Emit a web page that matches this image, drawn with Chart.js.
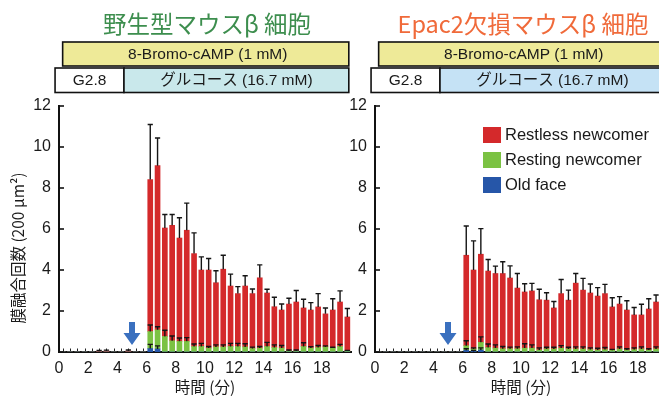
<!DOCTYPE html>
<html>
<head>
<meta charset="utf-8">
<script src="https://cdn.jsdelivr.net/npm/chart.js@4/dist/chart.umd.min.js"></script>
<style>
  html, body { margin: 0; padding: 0; background: #fff; }
  #wrap { position: relative; width: 659px; height: 399px; overflow: hidden; }
  .panel { position: absolute; top: 0; width: 360px; height: 399px; }
</style>
</head>
<body>
<div id="wrap">
  <div class="panel" style="left:0"><canvas id="wt" width="360" height="399"></canvas></div>
  <div class="panel" style="left:316px"><canvas id="ko" width="360" height="399"></canvas></div>
</div>
<script>
// Time bins (min), one bar every 30 s
const times = [0.25, 0.75, 1.25, 1.75, 2.25, 2.75, 3.25, 3.75, 4.25, 4.75, 5.25, 5.75,
  6.25, 6.75, 7.25, 7.75, 8.25, 8.75, 9.25, 9.75, 10.25, 10.75, 11.25, 11.75, 12.25, 12.75,
  13.25, 13.75, 14.25, 14.75, 15.25, 15.75, 16.25, 16.75, 17.25, 17.75, 18.25, 18.75, 19.25, 19.75];
const xTicks = [0, 2, 4, 6, 8, 10, 12, 14, 16, 18];
const yTicks = [0, 2, 4, 6, 8, 10, 12];
const seriesNames = ['Old face', 'Resting newcomer', 'Restless newcomer'];

// Wild-type beta cells: fusion events per 200 um^2 (segment heights) and SEM
const wtOld = [0, 0, 0, 0, 0, 0, 0, 0, 0, 0, 0, 0,
  0.17, 0.15, 0, 0, 0, 0, 0, 0, 0, 0, 0, 0, 0, 0, 0, 0, 0, 0, 0, 0, 0, 0, 0, 0, 0, 0, 0, 0];
const wtResting = [0, 0, 0, 0, 0, 0, 0, 0, 0, 0, 0, 0,
  0.83, 0.93, 0.76, 0.55, 0.52, 0.52, 0.27, 0.27, 0.19, 0.25, 0.25, 0.27, 0.27, 0.25,
  0.17, 0.19, 0.27, 0.22, 0.19, 0.05, 0.05, 0.27, 0.19, 0.22, 0.25, 0.19, 0.27, 0.05];
const wtRestless = [0, 0, 0, 0, 0, 0.04, 0.05, 0, 0, 0.05, 0, 0,
  7.41, 8.01, 5.29, 5.63, 5.04, 5.42, 4.53, 3.73, 3.81, 3.13, 3.79, 2.95, 2.58, 2.97,
  2.68, 3.43, 2.61, 1.99, 1.86, 2.29, 2.39, 1.88, 1.86, 1.98, 1.61, 1.86, 2.17, 1.66];
const wtOldErr = [0, 0, 0, 0, 0, 0, 0, 0, 0, 0, 0, 0,
  0.2, 0.15, 0, 0, 0, 0, 0, 0, 0, 0, 0, 0, 0, 0, 0, 0, 0, 0, 0, 0, 0, 0, 0, 0, 0, 0, 0, 0];
const wtRestingErr = [0, 0, 0, 0, 0, 0, 0, 0, 0, 0, 0, 0,
  0.32, 0.15, 0.3, 0.23, 0.16, 0.18, 0.12, 0.15, 0.08, 0.1, 0.1, 0.15, 0.15, 0.15,
  0.07, 0.08, 0.2, 0.13, 0.13, 0.05, 0.05, 0.18, 0.07, 0.1, 0.05, 0.04, 0.1, 0.03];
const wtRestlessErr = [0, 0, 0, 0, 0, 0.04, 0.04, 0, 0, 0.05, 0, 0,
  2.69, 1.35, 0.66, 0.53, 0.99, 1.32, 1.01, 0.64, 0.56, 0.58, 0.68, 0.58, 0.34, 0.5,
  0.22, 0.63, 0.18, 0.46, 0.29, 0.28, 0.56, 0.42, 0.36, 0.65, 0.29, 0.55, 0.54, 0.41];

// Epac2-deficient beta cells
const koOld = [0, 0, 0, 0, 0, 0, 0, 0, 0, 0, 0, 0,
  0.08, 0.03, 0.1, 0, 0, 0, 0, 0, 0, 0, 0, 0, 0, 0, 0, 0, 0, 0, 0, 0, 0, 0, 0, 0, 0, 0, 0, 0];
const koResting = [0, 0, 0, 0, 0, 0, 0, 0, 0, 0, 0, 0,
  0.23, 0.12, 0.37, 0.22, 0.19, 0.16, 0.16, 0.16, 0.19, 0.19, 0.1, 0.15, 0.15, 0.19,
  0.15, 0.15, 0.15, 0.12, 0.1, 0.12, 0.08, 0.15, 0.1, 0.12, 0.15, 0.1, 0.15, 0.1];
const koRestless = [0, 0, 0, 0, 0, 0, 0, 0, 0, 0, 0, 0,
  4.41, 3.85, 4.30, 3.73, 3.64, 3.67, 3.45, 2.96, 2.74, 2.79, 2.45, 2.38, 2.00, 2.66,
  2.38, 3.21, 2.87, 2.76, 2.63, 2.73, 2.12, 2.19, 1.95, 1.69, 1.66, 2.0, 2.29, 1.7];
const koOldErr = [0, 0, 0, 0, 0, 0, 0, 0, 0, 0, 0, 0,
  0.08, 0.05, 0.1, 0, 0, 0, 0, 0, 0, 0, 0, 0, 0, 0, 0, 0, 0, 0, 0, 0, 0, 0, 0, 0, 0, 0, 0, 0];
const koRestingErr = [0, 0, 0, 0, 0, 0, 0, 0, 0, 0, 0, 0,
  0.24, 0.05, 0.27, 0.17, 0.16, 0.11, 0.08, 0.09, 0.21, 0.16, 0.1, 0.08, 0.08, 0.12,
  0.08, 0.1, 0.1, 0.08, 0.08, 0.1, 0.05, 0.1, 0.06, 0.08, 0.1, 0.06, 0.1, 0.05];
const koRestlessErr = [0, 0, 0, 0, 0, 0, 0, 0, 0, 0, 0, 0,
  1.43, 1.42, 1.25, 0.56, 0.36, 0.57, 0.59, 0.71, 0.40, 0.37, 0.51, 0.36, 0.31, 0.69,
  0.49, 0.47, 0.57, 0.44, 0.41, 0.45, 0.45, 0.36, 0.45, 0.36, 0.52, 0.5, 0.34, 0.4];

// Stimulation timeline (min)
const bromoStart = 0.25, bromoEnd = 19.85;
const lowGlucStart = -0.27, highGlucStart = 4.45;
const stimArrowAt = 5;

const COLORS = ['#2656a8', '#7bc243', '#d4292b'];
const LATIN = "'Liberation Sans', Arial, 'Noto Sans CJK JP', sans-serif";
const JP = "'Noto Sans CJK JP', 'Liberation Sans', sans-serif";

const decor = {
  id: 'panelDecor',
  beforeDatasetsDraw(chart) {
    const { ctx, scales: { x, y } } = chart;
    const base = y.getPixelForValue(0);
    ctx.save();
    ctx.strokeStyle = '#222';
    ctx.lineWidth = 1;
    // short inward ticks along the time axis, one per bin
    times.forEach(t => {
      const px = Math.round(x.getPixelForValue(t)) + 0.5;
      ctx.beginPath(); ctx.moveTo(px, base); ctx.lineTo(px, base - 3.5); ctx.stroke();
    });
    ctx.restore();
  },
  afterDatasetsDraw(chart, args, o) {
    const { ctx, scales: { x, y } } = chart;
    ctx.save();
    ctx.strokeStyle = '#151515';
    ctx.lineWidth = 1.4;
    const dss = chart.data.datasets;
    for (let j = 0; j < times.length; j++) {
      let top = 0;
      for (let i = 0; i < dss.length; i++) {
        top += dss[i].data[j].y;
        const e = o.errors[i][j];
        if (!e) continue;
        const px = x.getPixelForValue(times[j]);
        const y0 = y.getPixelForValue(top), y1 = y.getPixelForValue(top + e);
        ctx.beginPath();
        ctx.moveTo(px, y0); ctx.lineTo(px, y1);
        ctx.moveTo(px - 2.6, y1); ctx.lineTo(px + 2.6, y1);
        ctx.stroke();
      }
    }
    // glucose stimulation arrow
    const ax = x.getPixelForValue(stimArrowAt);
    ctx.fillStyle = '#3a70bf';
    ctx.beginPath();
    ctx.moveTo(ax - 3, 322); ctx.lineTo(ax + 3, 322); ctx.lineTo(ax + 3, 333);
    ctx.lineTo(ax + 8.5, 333); ctx.lineTo(ax, 345); ctx.lineTo(ax - 8.5, 333);
    ctx.lineTo(ax - 3, 333); ctx.closePath(); ctx.fill();
    ctx.restore();
  },
  afterDraw(chart, args, o) {
    const { ctx, chartArea: ca, scales: { x, y } } = chart;
    ctx.save();
    // inward ticks on the value axis
    ctx.strokeStyle = '#111';
    ctx.lineWidth = 1.6;
    yTicks.forEach(v => {
      const py = Math.round(y.getPixelForValue(v));
      ctx.beginPath(); ctx.moveTo(ca.left, py); ctx.lineTo(ca.left + 5, py); ctx.stroke();
    });

    // panel title
    ctx.fillStyle = o.titleColor;
    ctx.font = '23.5px ' + JP;
    ctx.textAlign = 'center';
    ctx.textBaseline = 'middle';
    ctx.fillText(o.title, (ca.left + ca.right) / 2 + 2, 24);

    // treatment bars
    const bx0 = x.getPixelForValue(bromoStart), bx1 = x.getPixelForValue(bromoEnd);
    const gx0 = x.getPixelForValue(lowGlucStart), gx1 = x.getPixelForValue(highGlucStart);
    ctx.lineWidth = 1.6;
    ctx.strokeStyle = '#111';
    ctx.fillStyle = '#eeea98';
    ctx.fillRect(bx0, 42, bx1 - bx0, 24); ctx.strokeRect(bx0, 42, bx1 - bx0, 24);
    ctx.fillStyle = '#ffffff';
    ctx.fillRect(gx0, 68, gx1 - gx0, 24.5); ctx.strokeRect(gx0, 68, gx1 - gx0, 24.5);
    ctx.fillStyle = o.glucColor;
    ctx.fillRect(gx1, 68, bx1 - gx1, 24.5); ctx.strokeRect(gx1, 68, bx1 - gx1, 24.5);
    ctx.fillStyle = '#1a1a1a';
    ctx.font = '15.5px ' + LATIN;
    ctx.fillText('8-Bromo-cAMP (1 mM)', (bx0 + bx1) / 2 + 2, 55);
    ctx.fillText('G2.8', (gx0 + gx1) / 2, 81);
    ctx.fillText('グルコース (16.7 mM)', (gx1 + bx1) / 2, 81);

    // value axis title
    if (o.yTitle) {
      ctx.save();
      ctx.translate(18, 248);
      ctx.rotate(-Math.PI / 2);
      ctx.font = '15.5px ' + JP;
      ctx.fillStyle = '#1a1a1a';
      ctx.fillText(o.yTitle, 0, 0);
      ctx.restore();
    }

    // legend
    if (o.legend) {
      const lx = ca.left + 108;
      const rows = [[2, 127], [1, 152], [0, 177]];
      ctx.textAlign = 'left';
      ctx.font = '16.5px ' + LATIN;
      rows.forEach(([i, ly]) => {
        ctx.fillStyle = COLORS[i];
        ctx.fillRect(lx, ly, 18, 16);
        ctx.fillStyle = '#1a1a1a';
        ctx.fillText(seriesNames[i], lx + 22, ly + 8.5);
      });
    }
    ctx.restore();
  }
};

function makeChart(id, old, resting, restless, errs, opts) {
  const series = [old, resting, restless];
  return new Chart(document.getElementById(id), {
    type: 'bar',
    data: {
      datasets: series.map((vals, i) => ({
        label: seriesNames[i],
        data: times.map((t, k) => ({ x: t, y: vals[k] })),
        backgroundColor: COLORS[i],
        borderWidth: 0,
        barThickness: 5
      }))
    },
    options: {
      responsive: false,
      animation: false,
      events: [],
      layout: { padding: { top: 106, right: 9, bottom: 0, left: 0 } },
      scales: {
        x: {
          type: 'linear', stacked: true, offset: false, min: 0, max: 20,
          afterBuildTicks: s => { s.ticks = xTicks.map(v => ({ value: v })); },
          afterFit: s => { s.height = 47; },
          grid: { display: false, drawTicks: false, offset: false },
          border: { display: true, color: '#111', width: 2 },
          ticks: { padding: 7, color: '#1a1a1a', font: { family: LATIN, size: 16 }, maxRotation: 0, autoSkip: false },
          title: { display: true, text: '時間 (分)', color: '#1a1a1a', padding: { top: 2, bottom: 3 }, font: { family: JP, size: 15.5 } }
        },
        y: {
          stacked: true, min: 0, max: 12,
          afterBuildTicks: s => { s.ticks = yTicks.map(v => ({ value: v })); },
          afterFit: s => { s.width = 59; },
          grid: { display: false, drawTicks: false },
          border: { display: true, color: '#111', width: 2 },
          ticks: { padding: 8, color: '#1a1a1a', font: { family: LATIN, size: 16 } }
        }
      },
      plugins: {
        legend: { display: false },
        tooltip: { enabled: false },
        panelDecor: Object.assign({ errors: errs }, opts)
      }
    },
    plugins: [decor]
  });
}

makeChart('wt', wtOld, wtResting, wtRestless, [wtOldErr, wtRestingErr, wtRestlessErr], {
  title: '野生型マウスβ 細胞', titleColor: '#3d8e4e', glucColor: '#c9e8eb',
  yTitle: '膜融合回数 (200 μm²)', legend: false
});
makeChart('ko', koOld, koResting, koRestless, [koOldErr, koRestingErr, koRestlessErr], {
  title: 'Epac2欠損マウスβ 細胞', titleColor: '#f06a3a', glucColor: '#c5e2f5',
  yTitle: null, legend: true
});
</script>
</body>
</html>
